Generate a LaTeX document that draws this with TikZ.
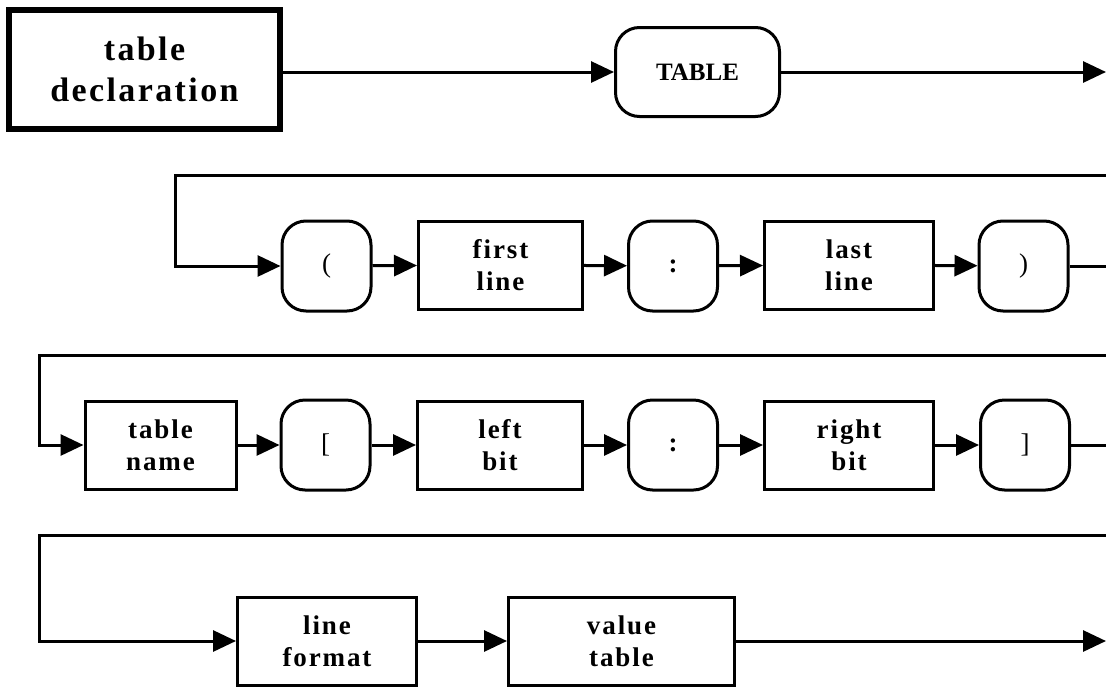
\documentclass[tikz,border=0pt]{standalone}
\usepackage{fontspec}
\setmainfont{Liberation Serif}
\newfontfamily\spaced[LetterSpace=7]{Liberation Serif}
\usetikzlibrary{arrows.meta}
\begin{document}
\begin{tikzpicture}[x=1pt,y=-1pt,
  box/.style={draw, line width=3pt, inner sep=0pt, align=center,
    minimum height=88pt,
    font=\spaced\bfseries\fontsize{27}{32}\selectfont},
  rbox/.style={box, rounded corners=24pt, minimum width=89pt, minimum height=90pt},
  brk/.style={font=\spaced\fontsize{27}{32}\selectfont},
  conn/.style={line width=3pt},
  arr/.style={conn, -{Triangle[length=23pt,width=21pt]}}]
\useasboundingbox (0,0) rectangle (1106,691);
% row 1
\node[draw, line width=6pt, inner sep=0pt, align=center, minimum width=271pt, minimum height=119pt,
  font=\spaced\bfseries\fontsize{34}{41}\selectfont] (decl) at (144.5,69.5) {table\\declaration};
\node[rbox, minimum width=164pt, minimum height=89pt, font=\bfseries\fontsize{25}{30}\selectfont] (tbl) at (697.5,72) {TABLE};
\coordinate (e1) at (1106,72);
\draw[arr] (decl.east |- tbl.west) -- (tbl.west);
\draw[arr] (tbl.east) -- (e1);
% row 2
\node[rbox, brk] (lp) at (326.5,266) {(};
\node[box, minimum width=164pt] (first) at (500.5,265) {first\\line};
\node[rbox] (c1) at (673,266) {:};
\node[box, minimum width=169pt] (last) at (849,265) {last\\line};
\node[rbox, brk] (rp) at (1023.5,266) {)};
\coordinate (s2) at (1106,175);
\coordinate (k2) at (175,175);
\coordinate (x2) at (1106,266);
\draw[arr] (s2) -- (k2) |- (lp.west);
\draw[arr] (lp) -- (first);
\draw[arr] (first) -- (c1);
\draw[arr] (c1) -- (last);
\draw[arr] (last) -- (rp);
\draw[conn] (rp.east) -- (x2);
% row 3
\node[box, minimum width=151pt] (tname) at (160.5,445) {table\\name};
\node[rbox, brk] (lb) at (325.5,445) {[};
\node[box, minimum width=165pt] (lbit) at (500,445) {left\\bit};
\node[rbox] (c2) at (673,445) {:};
\node[box, minimum width=169pt] (rbit) at (849,445) {right\\bit};
\node[rbox, brk] (rb) at (1025,445) {]};
\coordinate (s3) at (1106,355);
\coordinate (k3) at (39,355);
\coordinate (x3) at (1106,445);
\draw[arr] (s3) -- (k3) |- (tname.west);
\draw[arr] (tname) -- (lb);
\draw[arr] (lb) -- (lbit);
\draw[arr] (lbit) -- (c2);
\draw[arr] (c2) -- (rbit);
\draw[arr] (rbit) -- (rb);
\draw[conn] (rb.east) -- (x3);
% row 4
\node[box, minimum width=179pt] (lfmt) at (327,641) {line\\format};
\node[box, minimum width=226pt] (vtab) at (621.5,641) {value\\table};
\coordinate (s4) at (1106,535);
\coordinate (k4) at (39,535);
\coordinate (e4) at (1106,641);
\draw[arr] (s4) -- (k4) |- (lfmt.west);
\draw[arr] (lfmt) -- (vtab);
\draw[arr] (vtab.east) -- (e4);
\end{tikzpicture}
\end{document}
